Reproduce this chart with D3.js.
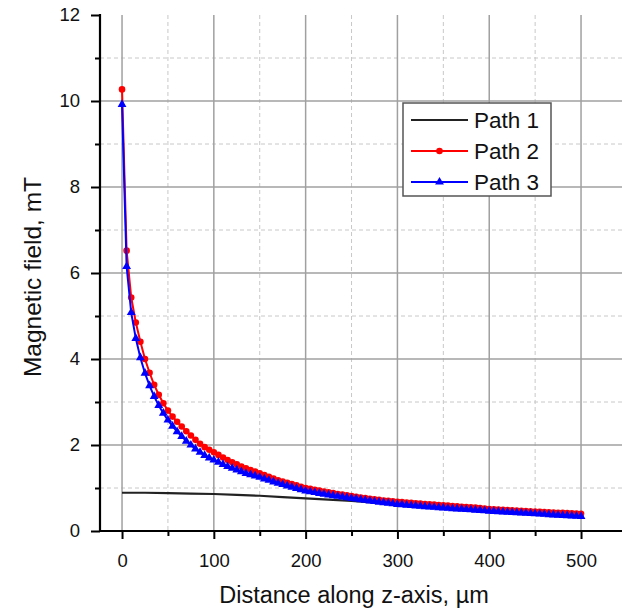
<!DOCTYPE html>
<html>
<head>
<meta charset="utf-8">
<script src="https://cdn.jsdelivr.net/npm/d3@7"></script>
<style>
  body { margin: 0; background: #fff; }
  svg { font-family: "Liberation Sans", Arial, sans-serif; }
</style>
</head>
<body>
<svg width="622" height="614"></svg>
<script>
// distance along z (um) for the marked paths
var distance = [
    0, 5, 10, 15, 20, 25, 30, 35, 40, 45, 50, 55, 60, 65, 70, 75, 80, 85, 90, 95,
    100, 105, 110, 115, 120, 125, 130, 135, 140, 145, 150, 155, 160, 165, 170, 175, 180, 185, 190, 195,
    200, 205, 210, 215, 220, 225, 230, 235, 240, 245, 250, 255, 260, 265, 270, 275, 280, 285, 290, 295,
    300, 305, 310, 315, 320, 325, 330, 335, 340, 345, 350, 355, 360, 365, 370, 375, 380, 385, 390, 395,
    400, 405, 410, 415, 420, 425, 430, 435, 440, 445, 450, 455, 460, 465, 470, 475, 480, 485, 490, 495,
    500
];

var path2 = [
    10.27, 6.52, 5.43, 4.85, 4.40, 4.00, 3.68, 3.40, 3.17, 2.97, 2.80, 2.66, 2.54, 2.43, 2.32, 2.22, 2.12, 2.03, 1.95, 1.89,
    1.83, 1.77, 1.71, 1.65, 1.60, 1.55, 1.50, 1.46, 1.42, 1.38, 1.34, 1.30, 1.26, 1.22, 1.18, 1.15, 1.12, 1.09, 1.06, 1.03,
    1.00, 0.98, 0.96, 0.94, 0.92, 0.90, 0.88, 0.86, 0.845, 0.83, 0.81, 0.795, 0.78, 0.765, 0.75, 0.74, 0.725, 0.71, 0.70, 0.69,
    0.68, 0.671, 0.662, 0.653, 0.645, 0.637, 0.629, 0.621, 0.613, 0.605, 0.597, 0.589, 0.581, 0.573, 0.565, 0.557, 0.55, 0.543, 0.532, 0.521,
    0.51, 0.504, 0.498, 0.492, 0.486, 0.48, 0.474, 0.468, 0.462, 0.457, 0.452, 0.446, 0.441, 0.436, 0.431, 0.426, 0.421, 0.416, 0.411, 0.406,
    0.40
];

var path3 = [
    9.92, 6.15, 5.08, 4.48, 4.03, 3.67, 3.38, 3.13, 2.92, 2.74, 2.58, 2.44, 2.31, 2.20, 2.09, 2.00, 1.91, 1.83, 1.76, 1.70,
    1.65, 1.60, 1.55, 1.50, 1.46, 1.42, 1.38, 1.34, 1.31, 1.28, 1.25, 1.21, 1.18, 1.14, 1.11, 1.08, 1.05, 1.02, 0.99, 0.96,
    0.93, 0.912, 0.894, 0.876, 0.858, 0.841, 0.824, 0.808, 0.792, 0.776, 0.76, 0.745, 0.73, 0.715, 0.70, 0.686, 0.672, 0.659, 0.646, 0.633,
    0.62, 0.611, 0.602, 0.593, 0.584, 0.576, 0.568, 0.56, 0.552, 0.544, 0.536, 0.528, 0.521, 0.514, 0.507, 0.50, 0.493, 0.486, 0.479, 0.47,
    0.46, 0.454, 0.448, 0.442, 0.436, 0.43, 0.424, 0.418, 0.412, 0.406, 0.40, 0.394, 0.388, 0.382, 0.376, 0.37, 0.364, 0.358, 0.352, 0.346,
    0.34
];

// path 1 has no markers, read every 25 um
var distance1 = [0, 25, 50, 75, 100, 125, 150, 175, 200, 225, 250, 275, 300, 325, 350, 375, 400, 425, 450, 475, 500];
var path1 = [0.89, 0.89, 0.88, 0.87, 0.86, 0.84, 0.82, 0.79, 0.76, 0.73, 0.70, 0.66, 0.62, 0.59, 0.55, 0.52, 0.48, 0.45, 0.42, 0.39, 0.36];

var xTicks = [0, 100, 200, 300, 400, 500];
var xMinor = [50, 150, 250, 350, 450, 550];
var yTicks = [0, 2, 4, 6, 8, 10, 12];
var yMinor = [1, 3, 5, 7, 9, 11];

var seriesNames = ['Path 1', 'Path 2', 'Path 3'];
var seriesColors = ['#222', '#ff0000', '#0000ff'];

var margin = { top: 15, left: 100, bottom: 531 };

var x = d3.scaleLinear().domain([-24, 548]).range([margin.left, margin.left + 572 * 0.918]);
var y = d3.scaleLinear().domain([0, 12]).range([margin.bottom, margin.top]);

var svg = d3.select('svg');

// grid
var grid = svg.append('g').attr('class', 'grid');
grid.selectAll('.vminor').data(xMinor).enter().append('line')
    .attr('x1', function (d) { return x(d); }).attr('x2', function (d) { return x(d); })
    .attr('y1', y(12)).attr('y2', y(0))
    .attr('stroke', '#c8c8c8').attr('stroke-width', 1).attr('stroke-dasharray', '4,3');
grid.selectAll('.hminor').data(yMinor).enter().append('line')
    .attr('x1', x(-24)).attr('x2', 622)
    .attr('y1', function (d) { return y(d); }).attr('y2', function (d) { return y(d); })
    .attr('stroke', '#c8c8c8').attr('stroke-width', 1).attr('stroke-dasharray', '4,3');
grid.selectAll('.vmajor').data(xTicks).enter().append('line')
    .attr('x1', function (d) { return x(d); }).attr('x2', function (d) { return x(d); })
    .attr('y1', y(12)).attr('y2', y(0))
    .attr('stroke', '#a0a0a0').attr('stroke-width', 1.5);
grid.selectAll('.hmajor').data(yTicks.filter(function (d) { return d > 0 && d < 12; })).enter().append('line')
    .attr('x1', x(-24)).attr('x2', 622)
    .attr('y1', function (d) { return y(d); }).attr('y2', function (d) { return y(d); })
    .attr('stroke', '#a0a0a0').attr('stroke-width', 1.5);

// lines
var line = d3.line()
    .x(function (d) { return x(d[0]); })
    .y(function (d) { return y(d[1]); });

var data1 = d3.zip(distance1, path1);
var data2 = d3.zip(distance, path2);
var data3 = d3.zip(distance, path3);

svg.append('path').datum(data1)
    .attr('d', line).attr('fill', 'none')
    .attr('stroke', seriesColors[0]).attr('stroke-width', 2.2);

svg.append('path').datum(data2)
    .attr('d', line).attr('fill', 'none')
    .attr('stroke', seriesColors[1]).attr('stroke-width', 2);
svg.append('g').selectAll('circle').data(data2).enter().append('circle')
    .attr('cx', function (d) { return x(d[0]); })
    .attr('cy', function (d) { return y(d[1]); })
    .attr('r', 3.3).attr('fill', seriesColors[1]);

svg.append('path').datum(data3)
    .attr('d', line).attr('fill', 'none')
    .attr('stroke', seriesColors[2]).attr('stroke-width', 2);
var tri = d3.symbol().type(d3.symbolTriangle).size(34);
svg.append('g').selectAll('path').data(data3).enter().append('path')
    .attr('d', tri)
    .attr('transform', function (d) { return 'translate(' + x(d[0]) + ',' + y(d[1]) + ')'; })
    .attr('fill', seriesColors[2]);

// axes
var axisG = svg.append('g').attr('class', 'axes');

axisG.append('g').attr('transform', 'translate(' + margin.left + ',0)')
    .call(d3.axisLeft(y).tickValues(yTicks).tickSize(9).tickPadding(11));
axisG.append('g').attr('transform', 'translate(' + margin.left + ',0)')
    .call(d3.axisLeft(y).tickValues(yMinor).tickSize(5).tickFormat(''));

axisG.append('g').attr('transform', 'translate(0,' + margin.bottom + ')')
    .call(d3.axisBottom(x).tickValues(xTicks).tickSize(8).tickPadding(15));
axisG.append('g').attr('transform', 'translate(0,' + margin.bottom + ')')
    .call(d3.axisBottom(x).tickValues(xMinor.filter(function (d) { return d < 548; })).tickSize(5).tickFormat(''));

axisG.selectAll('.domain').remove();
axisG.selectAll('.tick line').attr('stroke', '#000').attr('stroke-width', 2);
axisG.selectAll('.tick text').attr('font-size', 18.5).attr('fill', '#111')
    .attr('font-family', '"Liberation Sans", Arial, sans-serif');

// axis lines
axisG.append('line').attr('x1', margin.left).attr('x2', margin.left)
    .attr('y1', y(12) - 1).attr('y2', y(0) + 1).attr('stroke', '#000').attr('stroke-width', 2.2);
axisG.append('line').attr('x1', margin.left).attr('x2', 622)
    .attr('y1', y(0)).attr('y2', y(0)).attr('stroke', '#000').attr('stroke-width', 2.2);

// titles
svg.append('text')
    .attr('x', 354).attr('y', 603)
    .attr('text-anchor', 'middle').attr('font-size', 23.5).attr('fill', '#111')
    .text('Distance along z-axis, µm');
svg.append('text')
    .attr('transform', 'translate(41,' + 277 + ') rotate(-90)')
    .attr('text-anchor', 'middle').attr('font-size', 24.5).attr('fill', '#111')
    .text('Magnetic field, mT');

// legend
var legend = svg.append('g').attr('transform', 'translate(403,103)');
legend.append('rect').attr('width', 148).attr('height', 93)
    .attr('fill', '#fff').attr('stroke', '#555').attr('stroke-width', 1.5);
seriesNames.forEach(function (name, i) {
    var ly = 17 + i * 31;
    legend.append('line').attr('x1', 8).attr('x2', 65).attr('y1', ly).attr('y2', ly)
        .attr('stroke', seriesColors[i]).attr('stroke-width', 2.2);
    if (i === 1) {
        legend.append('circle').attr('cx', 36.5).attr('cy', ly).attr('r', 3.3).attr('fill', seriesColors[i]);
    }
    if (i === 2) {
        legend.append('path').attr('d', tri).attr('transform', 'translate(36.5,' + ly + ')').attr('fill', seriesColors[i]);
    }
    legend.append('text').attr('x', 71).attr('y', ly + 8)
        .attr('font-size', 22.5).attr('fill', '#111').text(name);
});
</script>
</body>
</html>
